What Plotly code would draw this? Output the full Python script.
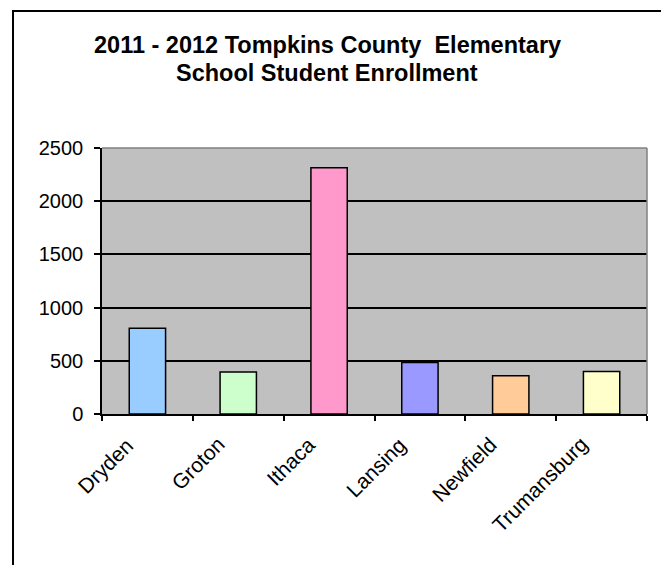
import plotly.graph_objects as go

schools = ["Dryden", "Groton", "Ithaca", "Lansing", "Newfield", "Trumansburg"]
enrollment = [805, 395, 2315, 485, 360, 400]
bar_colors = ["#99CCFF", "#CCFFCC", "#FF99CC", "#9999FF", "#FFCC99", "#FFFFCC"]
y_ticks = [0, 500, 1000, 1500, 2000, 2500]
title_lines = ["2011 - 2012 Tompkins County  Elementary", "School Student Enrollment"]

# page body adds an 8px margin, so the figure is drawn 8px smaller/shifted
W, H = 661, 557
L, R, T, B = 94, 22, 140, 151
pw, ph = W - L - R, H - T - B

def px_x(x):
    return (x - L) / pw

def px_y(y):
    return (H - B - y) / ph

fig = go.Figure(go.Bar(
    x=schools, y=enrollment,
    marker=dict(color=bar_colors, line=dict(color="black", width=1.5)),
    width=0.4,
))

font = "Arial, Liberation Sans, sans-serif"
fig.update_layout(
    width=W, height=H,
    margin=dict(l=L, r=R, t=T, b=B, autoexpand=False),
    paper_bgcolor="white",
    plot_bgcolor="#C0C0C0",
    showlegend=False,
    font=dict(family=font, size=20, color="black"),
    xaxis=dict(
        type="category", tickson="boundaries", showticklabels=False,
        ticks="outside", ticklen=5, tickcolor="black", tickwidth=1.5,
        showline=True, linecolor="black", linewidth=1.5,
        showgrid=False, range=[-0.5, len(schools) - 0.5], autorange=False,
    ),
    yaxis=dict(
        range=[0, 2500], tickvals=y_ticks, autorange=False,
        ticks="outside", ticklen=6, tickcolor="black", tickwidth=1.5,
        showline=True, linecolor="black", linewidth=1.5,
        showgrid=True, gridcolor="black", gridwidth=1.5,
        zeroline=False, tickfont=dict(size=20), ticklabelstandoff=7,
    ),
)

# rotated category labels (Excel-style placement)
for name in schools:
    fig.add_annotation(
        text=name, x=name, xref="x", y=0, yref="paper",
        xanchor="right", yanchor="top", textangle=-45, showarrow=False,
        xshift=-7, yshift=-16, font=dict(size=21, family=font, color="black"),
    )

# title lines
for i, line in enumerate(title_lines):
    fig.add_annotation(
        text="<b>" + line + "</b>", xref="paper", yref="paper",
        x=px_x(319), y=px_y(37 + 27.5 * i), showarrow=False,
        xanchor="center", yanchor="middle",
        font=dict(size=23.5, family=font, color="black"),
    )

# plot area top and right edges (gray)
fig.add_shape(type="line", xref="paper", yref="paper", x0=0, x1=1, y0=1, y1=1,
              line=dict(color="#808080", width=1.5), layer="above")
fig.add_shape(type="line", xref="paper", yref="paper", x0=1, x1=1, y0=0, y1=1,
              line=dict(color="#808080", width=1.5), layer="above")

# chart outer border (open at bottom, as cropped)
fig.add_shape(type="path", xref="paper", yref="paper",
              path=f"M {px_x(5)} {px_y(580)} L {px_x(5)} {px_y(3)} L {px_x(655)} {px_y(3)} L {px_x(655)} {px_y(580)}",
              line=dict(color="black", width=2))

fig.write_html("out.html")
